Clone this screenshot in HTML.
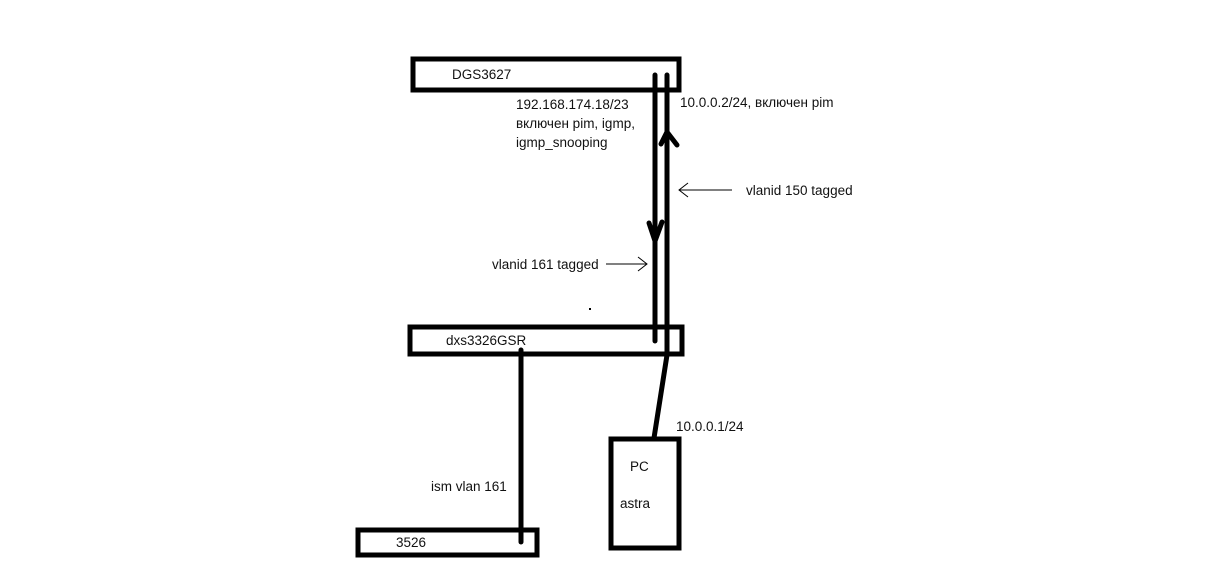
<!DOCTYPE html>
<html><head><meta charset="utf-8"><style>
html,body{margin:0;padding:0;background:#fff;}
svg{display:block}
text{font-family:"Liberation Sans","DejaVu Sans",sans-serif;font-size:13.5px;fill:#111}
</style></head><body>
<svg width="1213" height="580" viewBox="0 0 1213 580" xmlns="http://www.w3.org/2000/svg">
<g fill="none" stroke="#000" stroke-width="5">
<rect x="413" y="59" width="266" height="31"/>
<rect x="410" y="327" width="272" height="27"/>
<rect x="358" y="530" width="179" height="25"/>
<rect x="611" y="439" width="68" height="109"/>
</g>
<g fill="none" stroke="#000" stroke-width="5" stroke-linecap="round" stroke-linejoin="round">
<line x1="655" y1="75" x2="655" y2="341"/>
<polyline points="667,75 667,355 654,438"/>
<line x1="521" y1="350" x2="521" y2="542"/>
<polyline points="649,223 655,241 662,222"/>
<polyline points="661,144 667,132 677,145"/>
</g>
<g fill="none" stroke="#000" stroke-width="1">
<line x1="606" y1="264" x2="647" y2="264"/>
<polyline points="638,257 647,264 638,271"/>
<line x1="679" y1="190" x2="732" y2="190"/>
<polyline points="688,183 679,190 688,197"/>
</g>
<text x="452" y="79">DGS3627</text>
<text x="516" y="109">192.168.174.18/23</text>
<text x="516" y="128">включен pim, igmp,</text>
<text x="516" y="147">igmp_snooping</text>
<text x="680" y="107">10.0.0.2/24, включен pim</text>
<text x="746" y="195">vlanid 150 tagged</text>
<text x="492" y="269">vlanid 161 tagged</text>
<text x="446" y="345">dxs3326GSR</text>
<text x="676" y="431">10.0.0.1/24</text>
<text x="630" y="471">PC</text>
<text x="620" y="508">astra</text>
<text x="431" y="491">ism vlan 161</text>
<text x="396" y="547">3526</text>
<rect x="589" y="308" width="2" height="2" fill="#000"/>
</svg>
</body></html>
